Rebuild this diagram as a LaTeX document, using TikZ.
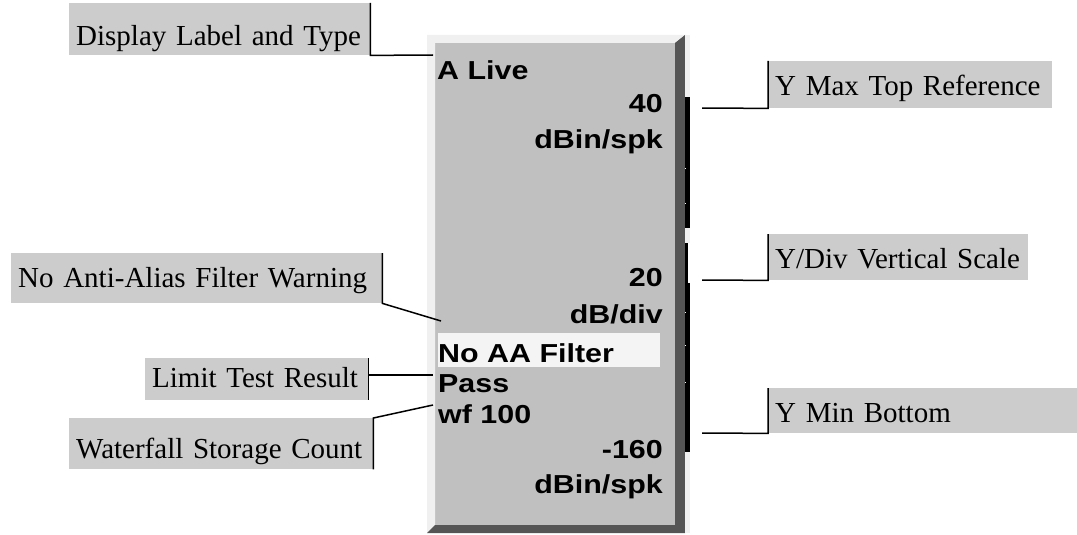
\documentclass[tikz,border=0pt]{standalone}
\usepackage{fontspec}
\setmainfont{Liberation Serif}
\newfontfamily\panelfont{Liberation Sans}[FakeStretch=1.17]
\definecolor{Ink}{HTML}{000000}
\definecolor{Tag}{HTML}{CCCCCC}
\definecolor{Face}{HTML}{C0C0C0}
\definecolor{Lite}{HTML}{F0F0F0}
\definecolor{Shade}{HTML}{555555}
\definecolor{Hilite}{HTML}{F4F4F4}
\tikzset{
  tag/.style={fill=Tag,anchor=north west,inner xsep=7pt,inner ysep=0pt,align=left,
    font=\fontsize{29}{34}\selectfont},
  readout/.style={inner sep=0pt,font=\panelfont\bfseries\fontsize{26}{30}\selectfont},
  lead/.style={draw=Ink,line width=1.5pt}
}
\begin{document}
\begin{tikzpicture}[x=1pt,y=-1pt]
        \useasboundingbox (0,0) rectangle (1077,535);
        \fill[Face] (427,35) rectangle (685,533);
        \fill[Lite] (427,35) -- (685,35) -- (675,43) -- (435,43) -- (435,525) -- (427,533) -- cycle;
        \fill[Shade] (685,35) -- (685,533) -- (427,533) -- (435,525) -- (675,525) -- (675,43) -- cycle;
        \fill[Lite] (685,35) rectangle (690,533);
        \fill[Ink] (685,97) rectangle (690,228);
        \fill[Ink] (685,243) rectangle (690,452);
        \fill[white] (688,243) rectangle (690,283);
        \foreach \y in {168,203,312,345,382} {
          \fill[white] (685,\y) rectangle (686,\y+1);
        }
        \fill[Hilite] (438,333) rectangle (660,367);
        \node[readout,anchor=base west] (aLive) at (437,80) {A Live};
        \node[readout,anchor=base east] (topVal) at (663,113) {40};
        \node[readout,anchor=base east] (topUnit) at (663,148) {dBin/spk};
        \node[readout,anchor=base east] (divVal) at (663,286) {20};
        \node[readout,anchor=base east] (divUnit) at (663,323) {dB/div};
        \node[readout,anchor=base west] (noAA) at (438,362) {No AA Filter};
        \node[readout,anchor=base west] (pass) at (438,392) {Pass};
        \node[readout,anchor=base west] (wfNum) at (438,423) {wf 100};
        \node[readout,anchor=base east] (botVal) at (663,458) {-160};
        \node[readout,anchor=base east] (botUnit) at (663,493) {dBin/spk};
        \node[tag,text width=287pt,text height=42pt,text depth=10pt] (dispTag) at (69,3) {Display Label and Type};
        \node[tag,text width=357pt,text height=34pt,text depth=16pt] (aaTag) at (11,253) {No Anti-Alias Filter Warning};
        \node[tag,text width=209pt,text height=29pt,text depth=13pt] (limitTag) at (145,358) {Limit Test Result};
        \node[tag,text width=290pt,text height=40pt,text depth=11pt] (wfTag) at (69,418) {Waterfall Storage Count};
        \node[tag,text width=270pt,text height=34pt,text depth=13pt] (ymaxTag) at (768,61) {Y Max Top Reference};
        \node[tag,text width=246pt,text height=34pt,text depth=12pt] (ydivTag) at (768,234) {Y/Div Vertical Scale};
        \node[tag,text width=295pt,text height=34pt,text depth=11pt] (yminTag) at (768,388) {Y Min Bottom};
        \coordinate (dispTip) at (433,55);
        \coordinate (aaTip) at (441,321);
        \coordinate (passTip) at (433,375);
        \coordinate (wfTip) at (433,405);
        \coordinate (ymaxTip) at (702,108);
        \coordinate (ydivTip) at (702,280);
        \coordinate (yminTip) at (702,433);
        \draw[lead] (dispTag.north east) -- (dispTag.south east) -- (dispTip);
        \draw[lead] (aaTag.north east) -- (aaTag.south east) -- (aaTip);
        \draw[lead] (limitTag.north east) -- (limitTag.south east);
        \draw[lead] (limitTag.east |- passTip) -- (passTip);
        \draw[lead] (wfTag.south east) -- (wfTag.north east) -- (wfTip);
        \draw[lead] (ymaxTag.north west) -- (ymaxTag.south west) -- (ymaxTip);
        \draw[lead] (ydivTag.north west) -- (ydivTag.south west) -- (ydivTip);
        \draw[lead] (yminTag.north west) -- (yminTag.south west) -- (yminTip);
      \end{tikzpicture}
\end{document}
